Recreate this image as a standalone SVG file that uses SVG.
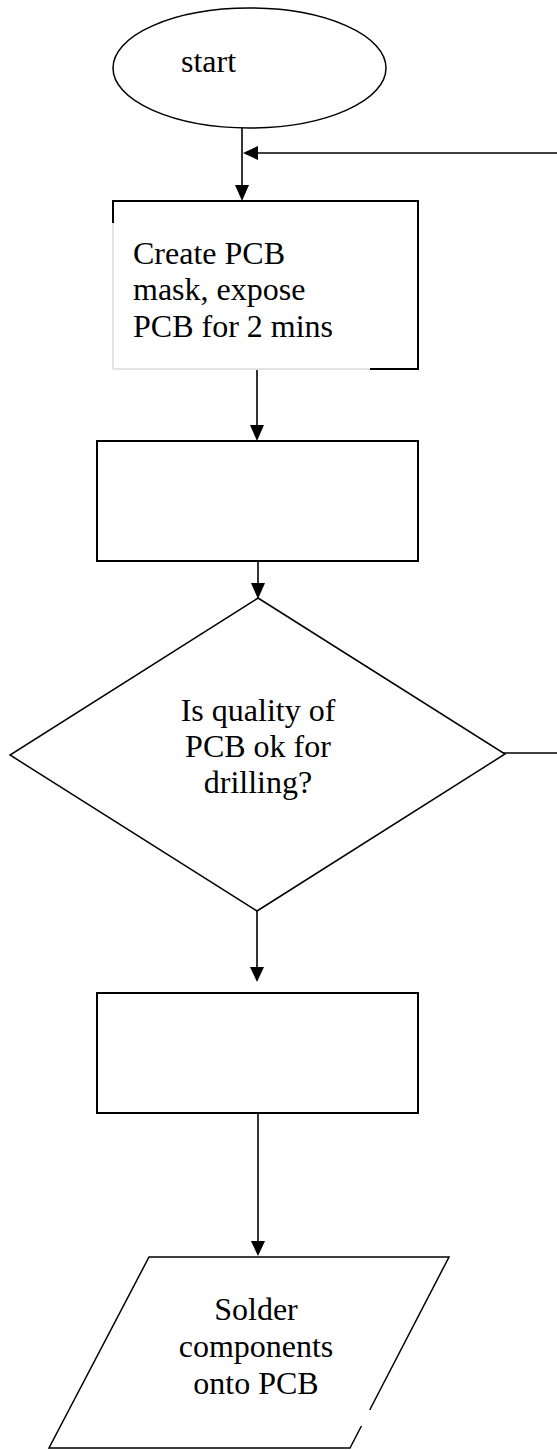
<svg xmlns="http://www.w3.org/2000/svg" width="557" height="1450" viewBox="0 0 557 1450">
<defs>
<style>
.s{fill:#fff;stroke:#000;stroke-width:1.5}
.b{fill:none;stroke:#000;stroke-width:2}
.g{fill:none;stroke:#c8c8c8;stroke-width:1}
.c{fill:none;stroke:#000;stroke-width:1.6}
.t{font-family:"Liberation Serif","Times New Roman",serif;font-size:32px;fill:#000}
.m{text-anchor:middle}
.h{fill:#000;stroke:none}
</style>
</defs>
<rect width="557" height="1450" fill="#fff"/>
<g id="connectors">
<line class="c" x1="242" y1="128" x2="242" y2="188"/>
<polygon class="h" points="235,185 249,185 242,201"/>
<line class="c" x1="557" y1="153" x2="255" y2="153"/>
<polygon class="h" points="258,146 258,160 243,153"/>
<line class="c" x1="257" y1="370" x2="257" y2="428"/>
<polygon class="h" points="250,425 264,425 257,441"/>
<line class="c" x1="258" y1="561" x2="258" y2="586"/>
<polygon class="h" points="251,583 265,583 258,599"/>
<line class="c" x1="257" y1="911" x2="257" y2="970"/>
<polygon class="h" points="250,967 264,967 257,982"/>
<line class="c" x1="258" y1="1113" x2="258" y2="1244"/>
<polygon class="h" points="251,1241 265,1241 258,1256"/>
<line class="c" x1="497" y1="753" x2="557" y2="753"/>
</g>
<g id="start">
<ellipse class="s" cx="249.5" cy="68" rx="136.5" ry="60"/>
<text class="t" x="181" y="72">start</text>
</g>
<g id="create-mask">
<rect x="113" y="201" width="305" height="168" fill="#fff" stroke="none"/>
<polyline class="g" points="113,223 113,369 370,369"/>
<polyline class="b" points="113,223 113,201 418,201 418,369 370,369"/>
<text class="t" x="133" y="264">Create PCB</text>
<text class="t" x="133" y="300">mask, expose</text>
<text class="t" x="133" y="337">PCB for 2 mins</text>
</g>
<g id="process-2">
<rect class="b" x="97" y="441" width="321" height="120" fill="#fff"/>
</g>
<g id="quality-check">
<polygon class="s" points="258,598 505,754 257,911 10,755"/>
<text class="t m" x="258" y="721">Is quality of</text>
<text class="t m" x="258" y="757">PCB ok for</text>
<text class="t m" x="258" y="793">drilling?</text>
</g>
<g id="process-3">
<rect class="b" x="97" y="993" width="321" height="120" fill="#fff"/>
</g>
<g id="solder">
<polygon points="149,1257 449,1257 350,1448 49,1448" fill="#fff" stroke="none"/>
<polyline class="s" fill="none" points="369.7,1410 449,1257 149,1257 49,1448 350,1448 361.4,1426"/>
<text class="t m" x="256" y="1320">Solder</text>
<text class="t m" x="256" y="1357">components</text>
<text class="t m" x="256" y="1394">onto PCB</text>
</g>
</svg>
